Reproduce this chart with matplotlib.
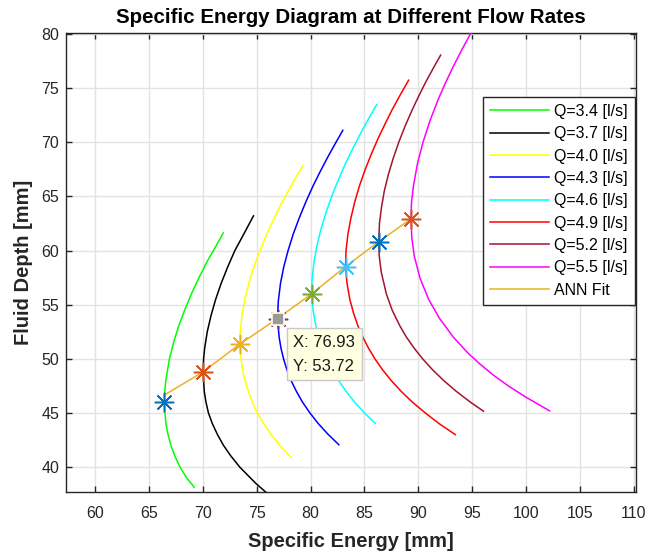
import matplotlib
matplotlib.use("Agg")
import matplotlib.pyplot as plt

plt.rcParams['font.family'] = ['Liberation Sans', 'DejaVu Sans']

# ---- data ----
labels = ["Q=3.4 [l/s]", "Q=3.7 [l/s]", "Q=4.0 [l/s]", "Q=4.3 [l/s]",
          "Q=4.6 [l/s]", "Q=4.9 [l/s]", "Q=5.2 [l/s]", "Q=5.5 [l/s]"]
colors = ["#00FF00", "#000000", "#FFFF00", "#0000FF",
          "#00FFFF", "#FF0000", "#A2142F", "#FF00FF"]

Y1 = [38.15, 39, 40, 41, 42, 43, 44, 45, 46.04, 47, 48, 50, 51.5, 53, 54.5, 56, 57.5, 59, 60.3, 61.64]
E1 = [69.2, 68.5, 67.88, 67.41, 67.04, 66.77, 66.58, 66.48, 66.44, 66.47, 66.56, 66.90, 67.28, 67.75, 68.31, 68.94, 69.64, 70.40, 71.15, 71.90]

Y2 = [37.0, 37.7, 38.5, 40, 41, 42, 43, 44, 45, 46, 47, 48.8, 50, 51, 52.5, 54, 55.5, 57, 58.5, 60, 61.6, 63.21]
E2 = [76.75, 75.83, 74.91, 73.43, 72.62, 71.92, 71.36, 70.89, 70.52, 70.29, 70.13, 70.03, 70.07, 70.17, 70.41, 70.76, 71.19, 71.71, 72.31, 72.97, 73.84, 74.70]

Y3 = [40.87, 41.8, 43, 44, 45, 46, 47, 48, 49, 50, 51.36, 52.5, 54, 55.5, 57, 58.5, 60, 61.5, 63, 64.3, 65.5, 66.7, 67.84]
E3 = [78.21, 77.32, 76.35, 75.66, 75.05, 74.60, 74.23, 73.92, 73.69, 73.54, 73.43, 73.47, 73.63, 73.90, 74.28, 74.74, 75.30, 75.92, 76.63, 77.27, 77.93, 78.60, 79.29]

Y4 = [42.07, 43, 44, 45, 46, 47, 48, 49, 50, 51, 52, 53.72, 55.3, 57, 58.5, 60, 61.5, 63, 64.5, 66, 67.3, 68.5, 69.8, 71.11]
E4 = [82.62, 81.65, 80.73, 79.94, 79.25, 78.68, 78.19, 77.80, 77.49, 77.25, 77.08, 76.93, 77.00, 77.21, 77.51, 77.91, 78.38, 78.94, 79.56, 80.24, 80.89, 81.52, 82.24, 82.99]

Y5 = [44.02, 45, 46, 47, 48, 49, 50, 51.5, 53, 54.5, 56, 57.5, 59, 60.5, 62, 63.5, 65, 66.5, 68, 69.5, 71, 72.3, 73.49]
E5 = [86.02, 85.00, 84.09, 83.29, 82.60, 82.01, 81.51, 80.93, 80.50, 80.23, 80.09, 80.15, 80.32, 80.60, 80.97, 81.43, 81.95, 82.56, 83.22, 83.95, 84.73, 85.45, 86.14]

Y6 = [43.0, 44, 45, 46, 47, 48, 49, 50, 51, 52, 53, 54.2, 55.5, 57, 58.52, 60, 61.5, 63, 64.5, 66, 67.5, 69, 70.5, 71.8, 73, 74.4, 75.74]
E6 = [93.43, 91.95, 90.65, 89.45, 88.40, 87.48, 86.67, 85.97, 85.37, 84.85, 84.41, 83.99, 83.64, 83.38, 83.24, 83.29, 83.46, 83.74, 84.10, 84.54, 85.07, 85.67, 86.33, 86.96, 87.56, 88.33, 89.10]

Y7 = [45.16, 46, 47, 48, 49, 50, 51, 52, 53, 54.5, 56, 58, 59.5, 60.83, 62.5, 64, 65.5, 67, 68.5, 70, 71.5, 73, 74.3, 75.5, 76.8, 78.06]
E7 = [96.05, 94.83, 93.52, 92.35, 91.31, 90.40, 89.60, 88.90, 88.31, 87.57, 87.03, 86.56, 86.37, 86.33, 86.39, 86.58, 86.84, 87.21, 87.66, 88.18, 88.77, 89.43, 90.05, 90.65, 91.36, 92.07]

Y8 = [45.19, 46.48, 47.5, 48.5, 49.5, 50.5, 52, 53.74, 55.5, 57.5, 59.5, 61.2, 62.93, 64.5, 66, 68, 70, 72, 74, 75.5, 77, 78.6, 80.2, 81.0]
E8 = [102.19, 99.95, 98.35, 96.96, 95.74, 94.64, 93.25, 91.96, 90.95, 90.14, 89.62, 89.39, 89.32, 89.37, 89.55, 89.91, 90.43, 91.08, 91.86, 92.52, 93.24, 94.06, 94.94, 95.4]

curves_E = [E1, E2, E3, E4, E5, E6, E7, E8]
curves_Y = [Y1, Y2, Y3, Y4, Y5, Y6, Y7, Y8]

# critical points (markers) and ANN fit
crit_E = [66.44, 70.03, 73.43, 76.93, 80.09, 83.24, 86.33, 89.32]
crit_Y = [46.04, 48.80, 51.36, 53.72, 56.00, 58.52, 60.83, 62.93]
marker_colors = ["#0072BD", "#D95319", "#EDB120", "#7E2F8E",
                 "#77AC30", "#4DBEEE", "#0072BD", "#D95319"]
ann_E = [66.50, 70.03, 73.43, 76.93, 80.09, 83.24, 86.33, 89.32]
ann_Y = [46.70, 48.80, 51.36, 53.72, 56.00, 58.52, 60.83, 62.93]

tip_E, tip_Y = 76.93, 53.72
tip_text = "X: 76.93\nY: 53.72"

# ---- figure ----
W, H = 649, 554
fig = plt.figure(figsize=(W / 100, H / 100), dpi=100)
ax = fig.add_axes([66 / W, 1 - 492 / H, (636 - 66) / W, (492 - 33) / H])

for E, Y, c, lab in zip(curves_E, curves_Y, colors, labels):
    ax.plot(E, Y, color=c, lw=1.1, label=lab, zorder=3)

ax.plot(ann_E, ann_Y, color="#EDB120", lw=1.1, label="ANN Fit", zorder=4)

for e, y, mc in zip(crit_E, crit_Y, marker_colors):
    ax.plot([e], [y], marker=(8, 2, 0), color=mc, markersize=14,
            markeredgewidth=1.1, zorder=5, linestyle='none')

# data tip
ax.plot([tip_E], [tip_Y], marker='s', markersize=9, mfc="#9A9A9A",
        mec="#FFFFE0", mew=1.2, zorder=7, linestyle='none')
ax.annotate(tip_text, xy=(tip_E, tip_Y), xytext=(11.5, -11.5),
            textcoords='offset points', ha='left', va='top', fontsize=12,
            linespacing=1.75, color="#1A1A1A", zorder=8,
            bbox=dict(boxstyle='square,pad=0.4', fc="#FFFFE1", ec="#C8C8C8", lw=1))

ax.set_xlim(57.3, 110.2)
ax.set_ylim(37.7, 80.1)
ax.set_xticks(range(60, 111, 5))
ax.set_yticks(range(40, 81, 5))
ax.grid(True, color="#E3E3E3", lw=1.0, zorder=0)
ax.set_axisbelow(True)
ax.tick_params(direction='in', length=4, width=1, colors="#262626",
               labelsize=11.5, top=True, right=True)
ax.tick_params(axis='x', pad=10)
ax.tick_params(axis='y', pad=5)
for s in ax.spines.values():
    s.set_color("#262626")
    s.set_linewidth(1.0)

ax.set_title("Specific Energy Diagram at Different Flow Rates",
             fontsize=14.8, fontweight='bold', color="#000000", pad=7)
ax.set_xlabel("Specific Energy [mm]", fontsize=14.5, fontweight='bold',
              color="#262626", labelpad=8)
ax.set_ylabel("Fluid Depth [mm]", fontsize=14.5, fontweight='bold',
              color="#262626", labelpad=6)

leg = ax.legend(loc='upper right', bbox_to_anchor=(635 / W, 1 - 96.7 / H),
                bbox_transform=fig.transFigure, borderaxespad=0,
                fontsize=11.5, handlelength=3.7, labelspacing=0.46,
                fancybox=False, framealpha=1, edgecolor="#262626",
                borderpad=0.45, handletextpad=0.3)
leg.get_frame().set_linewidth(1.0)
leg.set_zorder(10)

fig.savefig("out.png", dpi=100)
